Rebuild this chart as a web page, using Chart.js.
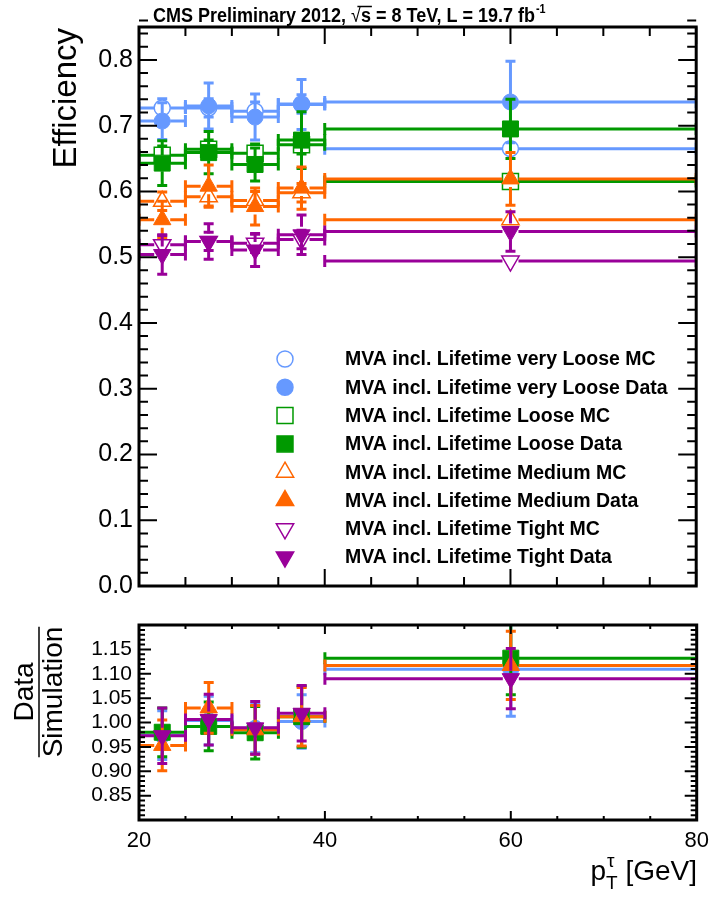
<!DOCTYPE html>
<html>
<head>
<meta charset="utf-8">
<script src="https://cdn.jsdelivr.net/npm/chart.js@4.4.0/dist/chart.umd.min.js"></script>
<style>
  html, body { margin: 0; padding: 0; background: #fff; }
  #wrap { position: relative; width: 709px; height: 898px; }
  #effChart { position: absolute; left: 0; top: 0; }
  #ratioChart { position: absolute; left: 0; top: 600px; }
</style>
</head>
<body>
<div id="wrap">
  <canvas id="effChart" width="709" height="600"></canvas>
  <canvas id="ratioChart" width="709" height="298"></canvas>
</div>
<script>
// pT bins (GeV)
const binLow = [20, 25, 30, 35, 40];
const binHigh = [25, 30, 35, 40, 80];
const binCenter = [22.5, 27.5, 32.5, 37.5, 60];

// tick labels
const effTicks = [0.0, 0.1, 0.2, 0.3, 0.4, 0.5, 0.6, 0.7, 0.8];
const ratioTicks = [0.85, 0.90, 0.95, 1.00, 1.05, 1.10, 1.15];
const ptTicks = [20, 40, 60, 80];

// efficiencies, upper panel
const vLooseMC = [0.727, 0.727, 0.722, 0.733, 0.665];
const vLooseMCErr = [0.014, 0.014, 0.014, 0.014, 0.008];
const vLooseData = [0.707, 0.730, 0.713, 0.732, 0.736];
const vLooseDataErr = [0.028, 0.035, 0.035, 0.038, 0.062];

const looseMC = [0.655, 0.664, 0.658, 0.671, 0.615];
const looseMCErr = [0.014, 0.014, 0.014, 0.014, 0.008];
const looseData = [0.643, 0.659, 0.641, 0.678, 0.695];
const looseDataErr = [0.034, 0.032, 0.025, 0.043, 0.045];

const mediumMC = [0.585, 0.592, 0.586, 0.598, 0.557];
const mediumMCErr = [0.014, 0.014, 0.014, 0.014, 0.008];
const mediumData = [0.557, 0.608, 0.577, 0.605, 0.619];
const mediumDataErr = [0.028, 0.032, 0.028, 0.032, 0.040];

const tightMC = [0.519, 0.524, 0.521, 0.527, 0.494];
const tightMCErr = [0.014, 0.014, 0.014, 0.014, 0.008];
const tightData = [0.504, 0.524, 0.511, 0.534, 0.539];
const tightDataErr = [0.030, 0.027, 0.025, 0.030, 0.030];

// data / simulation, lower panel
const vLooseRatio = [0.974, 1.004, 0.988, 1.002, 1.109];
const vLooseRatioErr = [0.050, 0.050, 0.050, 0.055, 0.096];
const looseRatio = [0.980, 0.992, 0.979, 1.012, 1.132];
const looseRatioErr = [0.050, 0.050, 0.054, 0.063, 0.075];
const mediumRatio = [0.953, 1.030, 0.985, 1.012, 1.117];
const mediumRatioErr = [0.052, 0.052, 0.050, 0.060, 0.070];
const tightRatio = [0.973, 1.006, 0.989, 1.019, 1.090];
const tightRatioErr = [0.057, 0.052, 0.054, 0.057, 0.062];

const BLUE = '#6699ff', GREEN = '#009900', ORANGE = '#ff6600', PURPLE = '#990099';
const SANS = '"Liberation Sans", Arial, Helvetica, sans-serif';

const markers = {
  circle: { pointStyle: 'circle', radius: 8, rotation: 0 },
  rect: { pointStyle: 'rect', radius: 11.3, rotation: 0 },
  up: { pointStyle: 'triangle', radius: 10, rotation: 0 },
  down: { pointStyle: 'triangle', radius: 10, rotation: 180 }
};

function makeSet(label, values, errors, color, shape, filled, order) {
  const m = markers[shape];
  return {
    label: label,
    data: binCenter.map((x, i) => ({ x: x, y: values[i], yErr: errors[i], xLo: binLow[i], xHi: binHigh[i] })),
    borderColor: color,
    backgroundColor: filled ? color : 'rgba(255,255,255,0)',
    pointBackgroundColor: filled ? color : 'rgba(255,255,255,0)',
    pointBorderColor: color,
    pointBorderWidth: filled ? 1 : 1.5,
    pointStyle: m.pointStyle,
    pointRadius: m.radius,
    pointHoverRadius: m.radius,
    pointRotation: m.rotation,
    showLine: false,
    order: order, // later series are drawn on top
    _shape: shape,
    _filled: filled
  };
}

const effSets = [
  makeSet('MVA incl. Lifetime very Loose MC', vLooseMC, vLooseMCErr, BLUE, 'circle', false, 8),
  makeSet('MVA incl. Lifetime very Loose Data', vLooseData, vLooseDataErr, BLUE, 'circle', true, 7),
  makeSet('MVA incl. Lifetime Loose MC', looseMC, looseMCErr, GREEN, 'rect', false, 6),
  makeSet('MVA incl. Lifetime Loose Data', looseData, looseDataErr, GREEN, 'rect', true, 5),
  makeSet('MVA incl. Lifetime Medium MC', mediumMC, mediumMCErr, ORANGE, 'up', false, 4),
  makeSet('MVA incl. Lifetime Medium Data', mediumData, mediumDataErr, ORANGE, 'up', true, 3),
  makeSet('MVA incl. Lifetime Tight MC', tightMC, tightMCErr, PURPLE, 'down', false, 2),
  makeSet('MVA incl. Lifetime Tight Data', tightData, tightDataErr, PURPLE, 'down', true, 1)
];

const ratioSets = [
  makeSet('very Loose', vLooseRatio, vLooseRatioErr, BLUE, 'circle', true, 4),
  makeSet('Loose', looseRatio, looseRatioErr, GREEN, 'rect', true, 3),
  makeSet('Medium', mediumRatio, mediumRatioErr, ORANGE, 'up', true, 2),
  makeSet('Tight', tightRatio, tightRatioErr, PURPLE, 'down', true, 1)
];

// ROOT-style error bars: lines stop at the marker, with end caps
const errorBars = {
  id: 'errorBars',
  beforeDatasetDraw(chart, args) {
    const ds = chart.data.datasets[args.index];
    const xs = chart.scales.x, ys = chart.scales.y, a = chart.chartArea;
    const ctx = chart.ctx;
    const gap = 8;
    ctx.save();
    ctx.beginPath();
    ctx.rect(a.left, a.top, a.right - a.left, a.bottom - a.top);
    ctx.clip();
    ctx.strokeStyle = ds.borderColor;
    ctx.lineWidth = 3;
    ctx.lineCap = 'butt';
    ds.data.forEach(p => {
      const px = xs.getPixelForValue(p.x), py = ys.getPixelForValue(p.y);
      const x1 = xs.getPixelForValue(p.xLo), x2 = xs.getPixelForValue(p.xHi);
      const yTop = ys.getPixelForValue(p.y + p.yErr), yBot = ys.getPixelForValue(p.y - p.yErr);
      ctx.beginPath();
      ctx.moveTo(x1, py); ctx.lineTo(px - gap, py);
      ctx.moveTo(px + gap, py); ctx.lineTo(x2, py);
      ctx.moveTo(x1, py - 6); ctx.lineTo(x1, py + 6);
      ctx.moveTo(x2, py - 6); ctx.lineTo(x2, py + 6);
      if (py - yTop > gap) {
        ctx.moveTo(px, py - gap); ctx.lineTo(px, yTop);
        ctx.moveTo(px, py + gap); ctx.lineTo(px, yBot);
        ctx.moveTo(px - 5, yTop); ctx.lineTo(px + 5, yTop);
        ctx.moveTo(px - 5, yBot); ctx.lineTo(px + 5, yBot);
      }
      ctx.stroke();
    });
    ctx.restore();
  }
};

// thick frame with inward ticks on all four sides
const frameTicks = {
  id: 'frameTicks',
  afterDraw(chart, args, opts) {
    const ctx = chart.ctx, a = chart.chartArea;
    const xs = chart.scales.x, ys = chart.scales.y;
    ctx.save();
    ctx.strokeStyle = '#000';
    ctx.lineWidth = 2;
    ctx.beginPath();
    const xN = Math.round((xs.max - xs.min) / opts.xMinorStep);
    for (let k = 0; k <= xN; k++) {
      const v = xs.min + k * opts.xMinorStep;
      const major = Math.abs(v / opts.xMajorStep - Math.round(v / opts.xMajorStep)) < 1e-6;
      const len = major ? opts.xLen[0] : opts.xLen[1];
      const x = xs.getPixelForValue(v);
      ctx.moveTo(x, a.bottom); ctx.lineTo(x, a.bottom - len);
      ctx.moveTo(x, a.top); ctx.lineTo(x, a.top + len);
    }
    const yN = Math.round((ys.max - ys.min) / opts.yMinorStep);
    for (let k = 0; k <= yN; k++) {
      const v = ys.min + k * opts.yMinorStep;
      const major = Math.abs(v / opts.yMajorStep - Math.round(v / opts.yMajorStep)) < 1e-6;
      const len = major ? opts.yLen[0] : opts.yLen[1];
      const y = ys.getPixelForValue(v);
      ctx.moveTo(a.left, y); ctx.lineTo(a.left + len, y);
      ctx.moveTo(a.right, y); ctx.lineTo(a.right - len, y);
    }
    ctx.stroke();
    ctx.lineWidth = 3;
    ctx.strokeRect(a.left, a.top, a.right - a.left, a.bottom - a.top);
    ctx.restore();
  }
};

function markerPath(ctx, shape, x, y) {
  const m = markers[shape];
  const r = m.radius;
  ctx.beginPath();
  if (m.pointStyle === 'circle') {
    ctx.arc(x, y, r, 0, Math.PI * 2);
  } else if (m.pointStyle === 'rect') {
    const s = r * Math.SQRT1_2;
    ctx.rect(x - s, y - s, 2 * s, 2 * s);
  } else {
    let ang = m.rotation * Math.PI / 180;
    for (let k = 0; k < 3; k++) {
      const px = x + Math.sin(ang) * r, py = y - Math.cos(ang) * r;
      if (k === 0) ctx.moveTo(px, py); else ctx.lineTo(px, py);
      ang += 2 * Math.PI / 3;
    }
    ctx.closePath();
  }
}

// title, y title and legend of the efficiency panel
const effTexts = {
  id: 'effTexts',
  afterDraw(chart) {
    const ctx = chart.ctx;
    ctx.save();
    ctx.fillStyle = '#000';

    // title, condensed bold
    ctx.save();
    ctx.translate(153, 22);
    ctx.scale(0.9, 1);
    ctx.font = 'bold 20px ' + SANS;
    ctx.textBaseline = 'alphabetic';
    let x = 0;
    const put = (t) => { ctx.fillText(t, x, 0); x += ctx.measureText(t).width; };
    put('CMS Preliminary 2012, ');
    const rootStart = x;
    ctx.font = '20px ' + SANS;
    put('\u221A');
    ctx.font = 'bold 20px ' + SANS;
    put('s');
    ctx.lineWidth = 1.5;
    ctx.strokeStyle = '#000';
    ctx.beginPath();
    ctx.moveTo(rootStart + 7, -15.5); ctx.lineTo(x + 1, -15.5);
    ctx.stroke();
    put(' = 8 TeV, L = 19.7 fb');
    ctx.font = 'bold 12px ' + SANS;
    ctx.fillText('-1', x + 1, -9);
    ctx.restore();

    // y title
    ctx.save();
    ctx.translate(76, 28);
    ctx.rotate(-Math.PI / 2);
    ctx.font = '33px ' + SANS;
    ctx.textAlign = 'right';
    ctx.textBaseline = 'alphabetic';
    ctx.fillText('Efficiency', 0, 0);
    ctx.restore();

    // legend
    ctx.font = 'bold 19.5px ' + SANS;
    ctx.textBaseline = 'middle';
    ctx.textAlign = 'left';
    chart.data.datasets.forEach((ds, i) => {
      const y = 359 + i * 28.3;
      markerPath(ctx, ds._shape, 285, y);
      if (ds._filled) { ctx.fillStyle = ds.borderColor; ctx.fill(); }
      ctx.strokeStyle = ds.borderColor;
      ctx.lineWidth = 1.5;
      ctx.stroke();
      ctx.fillStyle = '#000';
      ctx.fillText(ds.label, 345, y + 1);
    });
    ctx.restore();
  }
};

// y title (fraction) and x title of the ratio panel
const ratioTexts = {
  id: 'ratioTexts',
  afterDraw(chart) {
    const ctx = chart.ctx;
    ctx.save();
    ctx.fillStyle = '#000';
    ctx.strokeStyle = '#000';

    ctx.save();
    ctx.translate(0, 92);
    ctx.rotate(-Math.PI / 2);
    ctx.font = '28px ' + SANS;
    ctx.textAlign = 'center';
    ctx.textBaseline = 'alphabetic';
    ctx.fillText('Data', 0, 33);
    ctx.fillText('Simulation', 0, 62);
    const w = ctx.measureText('Simulation').width;
    ctx.lineWidth = 1.5;
    ctx.beginPath();
    ctx.moveTo(-w / 2, 39); ctx.lineTo(w / 2, 39);
    ctx.stroke();
    ctx.restore();

    // p_T^tau [GeV], right aligned to the frame
    ctx.textBaseline = 'alphabetic';
    ctx.font = '28px ' + SANS;
    const wp = ctx.measureText('p').width;
    const wg = ctx.measureText(' [GeV]').width;
    ctx.font = '19px ' + SANS;
    const wt = ctx.measureText('T').width;
    const x0 = 697 - wg - wt - wp;
    const base = 280;
    ctx.font = '28px ' + SANS;
    ctx.fillText('p', x0, base);
    ctx.font = '19px ' + SANS;
    ctx.fillText('T', x0 + wp, base + 9);
    ctx.fillText('\u03C4', x0 + wp + 1, base - 13);
    ctx.font = '28px ' + SANS;
    ctx.fillText(' [GeV]', x0 + wp + wt, base);
    ctx.restore();
  }
};

const tickFont = (size) => ({ family: SANS, size: size });
// keep the frame fixed: labels may overhang the plot area
const noScalePadding = (s) => { s.paddingLeft = 0; s.paddingRight = 0; s.paddingTop = 0; s.paddingBottom = 0; };

new Chart(document.getElementById('effChart'), {
  type: 'scatter',
  data: { datasets: effSets },
  options: {
    responsive: false,
    animation: false,
    events: [],
    layout: { padding: { left: 89, right: 12, top: 27, bottom: 14 } },
    plugins: {
      legend: { display: false },
      tooltip: { enabled: false },
      frameTicks: { xMinorStep: 5, xMajorStep: 20, yMinorStep: 0.02, yMajorStep: 0.1, xLen: [17, 9], yLen: [18, 9] }
    },
    scales: {
      x: { type: 'linear', min: 20, max: 80, display: false },
      y: {
        type: 'linear', min: 0, max: 0.85,
        afterBuildTicks: (s) => { s.ticks = effTicks.map(v => ({ value: v })); },
        afterFit: (s) => { s.width = 50; noScalePadding(s); },
        grid: { display: false, drawTicks: false },
        border: { display: false },
        ticks: { font: tickFont(25), color: '#000', padding: 6, callback: (v) => Number(v).toFixed(1) }
      }
    }
  },
  plugins: [errorBars, frameTicks, effTexts]
});

new Chart(document.getElementById('ratioChart'), {
  type: 'scatter',
  data: { datasets: ratioSets },
  options: {
    responsive: false,
    animation: false,
    events: [],
    layout: { padding: { left: 89, right: 12, top: 25, bottom: 0 } },
    plugins: {
      legend: { display: false },
      tooltip: { enabled: false },
      frameTicks: { xMinorStep: 5, xMajorStep: 20, yMinorStep: 0.01, yMajorStep: 0.05, xLen: [9, 4], yLen: [12, 6] }
    },
    scales: {
      x: {
        type: 'linear', min: 20, max: 80,
        afterBuildTicks: (s) => { s.ticks = ptTicks.map(v => ({ value: v })); },
        afterFit: (s) => { s.height = 78; noScalePadding(s); },
        grid: { display: false, drawTicks: false },
        border: { display: false },
        ticks: { font: tickFont(22), color: '#000', padding: 8, maxRotation: 0, callback: (v) => String(v) }
      },
      y: {
        type: 'linear', min: 0.8, max: 1.2,
        afterBuildTicks: (s) => { s.ticks = ratioTicks.map(v => ({ value: v })); },
        afterFit: (s) => { s.width = 50; noScalePadding(s); },
        grid: { display: false, drawTicks: false },
        border: { display: false },
        ticks: { font: tickFont(21), color: '#000', padding: 7, callback: (v) => Number(v).toFixed(2) }
      }
    }
  },
  plugins: [errorBars, frameTicks, ratioTexts]
});
</script>
</body>
</html>
